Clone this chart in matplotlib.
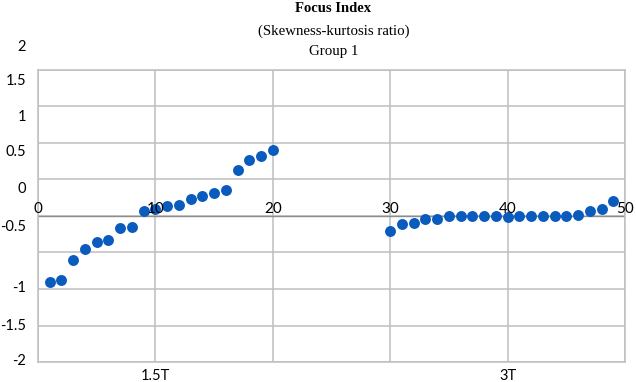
import matplotlib
matplotlib.use("Agg")
import matplotlib.pyplot as plt
import matplotlib.transforms as mtransforms

# data
x_15t = [1, 2, 3, 4, 5, 6, 7, 8, 9, 10, 11, 12, 13, 14, 15, 16, 17, 18, 19, 20]
y_15t = [-0.91, -0.88, -0.60, -0.45, -0.35, -0.33, -0.17, -0.15, 0.07, 0.09,
         0.14, 0.15, 0.23, 0.28, 0.32, 0.36, 0.63, 0.77, 0.82, 0.91]
x_3t = [30, 31, 32, 33, 34, 35, 36, 37, 38, 39, 40, 41, 42, 43, 44, 45, 46, 47, 48, 49]
y_3t = [-0.20, -0.11, -0.10, -0.04, -0.04, 0.0, 0.0, 0.0, 0.0, 0.0,
        -0.01, 0.0, 0.0, 0.0, 0.0, 0.0, 0.01, 0.07, 0.10, 0.20]

x_num_labels = ["0", "10", "20", "30", "40", "50"]
x_num_pos = [0, 10, 20, 30, 40, 50]
group_labels = ["", "1.5T", "", "", "3T", ""]
y_labels = ["2", "1.5", "1", "0.5", "0", "-0.5", "-1", "-1.5", "-2"]
# the y labels in the original sit off the gridlines
y_label_pos = [2.32, 1.85, 1.36, 0.87, 0.37, -0.15, -0.99, -1.50, -1.98]

blue = "#0A5BBE"
grid_col = "#BFBFBF"
font = "Lato"

fig = plt.figure(figsize=(6.36, 3.82), dpi=100)
ax = fig.add_axes([38 / 636, 1 - 362 / 382, 587 / 636, 292 / 382])

ax.set_xlim(0, 50)
ax.set_ylim(-2, 2)
ax.set_xticks(x_num_pos)
ax.set_xticklabels(group_labels, fontsize=10.5, fontfamily=font)
ax.set_yticks([-2, -1.5, -1, -0.5, 0, 0.5, 1, 1.5, 2])
ax.set_yticklabels([])
ax.tick_params(length=0)
ax.tick_params(axis="x", pad=5)
ax.grid(True, color=grid_col, linewidth=1.1)
ax.set_axisbelow(True)
for sp in ax.spines.values():
    sp.set_color(grid_col)
    sp.set_linewidth(1.1)

# x axis through zero with its number labels
ax.axhline(0, color="#8C8C8C", linewidth=1.0, zorder=1)
for xv, lab in zip(x_num_pos, x_num_labels):
    ax.text(xv, 0.0, lab, ha="center", va="bottom", fontsize=11,
            fontfamily=font, zorder=5)

trans = mtransforms.blended_transform_factory(ax.transAxes, ax.transData)
for yv, lab in zip(y_label_pos, y_labels):
    ax.text(-0.02, yv, lab, ha="right", va="center", fontsize=10.5,
            fontfamily=font, transform=trans, clip_on=False)

ax.scatter(x_15t, y_15t, s=62, color=blue, zorder=3, linewidths=0)
ax.scatter(x_3t, y_3t, s=62, color=blue, zorder=3, linewidths=0)

fig.text(0.524, 1 - 9 / 382, "Focus Index", ha="center", va="center",
         fontsize=10.5, fontweight="bold", fontfamily="Liberation Serif")
fig.text(0.524, 1 - 31 / 382, "(Skewness-kurtosis ratio)", ha="center",
         va="center", fontsize=10.7, fontfamily="Liberation Serif")
fig.text(0.524, 1 - 52 / 382, "Group 1", ha="center", va="center",
         fontsize=10.7, fontfamily="Liberation Serif")

fig.savefig("out.png", dpi=100)
